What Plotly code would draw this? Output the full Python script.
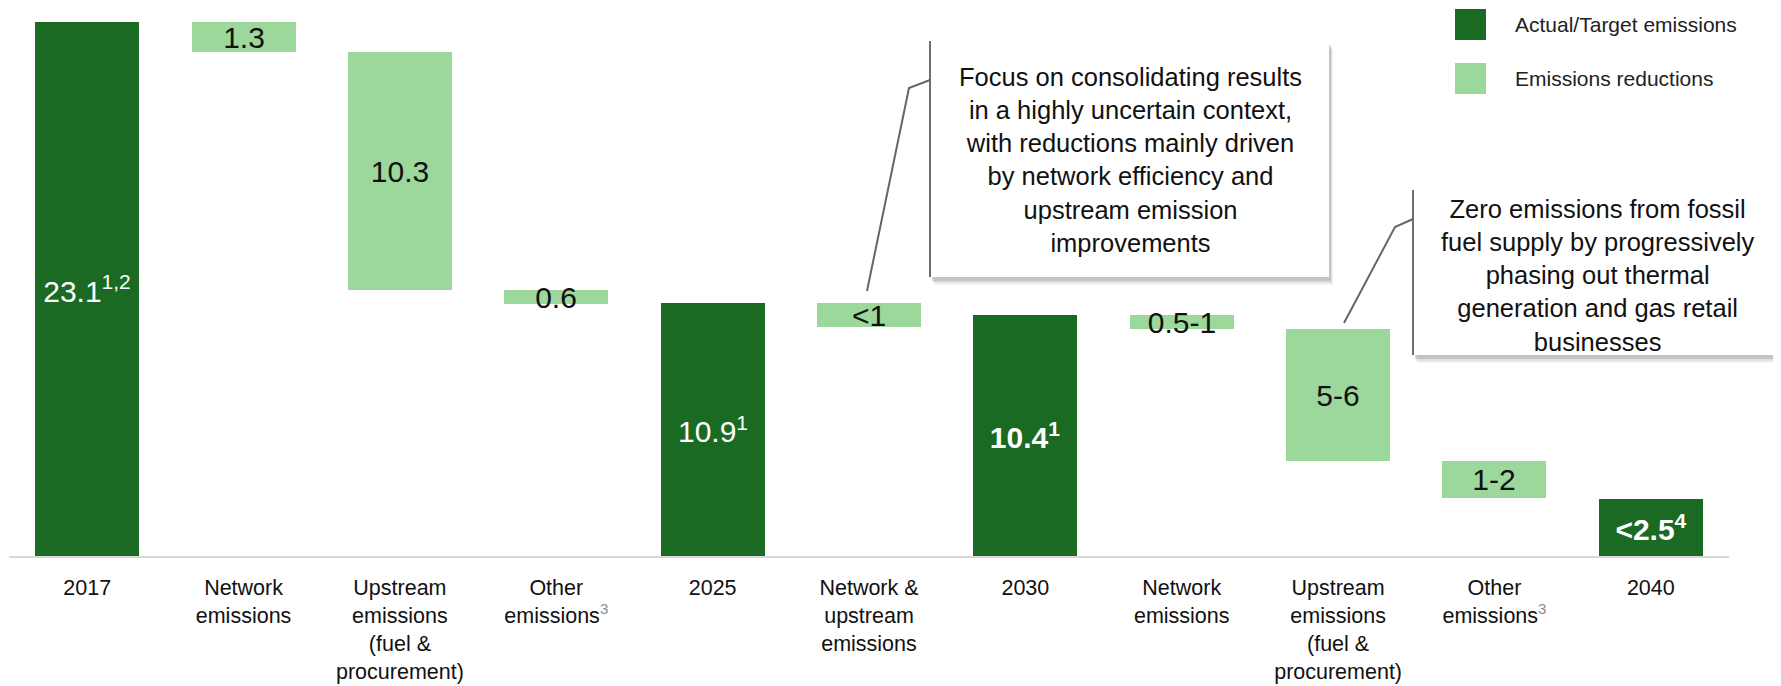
import plotly.graph_objects as go

categories = [
    "2017",
    "Network<br>emissions",
    "Upstream<br>emissions<br>(fuel &<br>procurement)",
    "Other<br>emissions<sup><span style='color:#8c8c8c'>3</span></sup>",
    "2025",
    "Network &<br>upstream<br>emissions",
    "2030",
    "Network<br>emissions",
    "Upstream<br>emissions<br>(fuel &<br>procurement)",
    "Other<br>emissions<sup><span style='color:#8c8c8c'>3</span></sup>",
    "2040",
]
kinds = ["total", "reduction", "reduction", "reduction", "total", "reduction",
         "total", "reduction", "reduction", "reduction", "total"]
values = [23.1, 1.3, 10.3, 0.6, 10.94, 1.01, 10.42, 0.58, 5.74, 1.6, 2.48]
value_labels = [
    "23.1<sup>1,2</sup>", "1.3", "10.3", "0.6", "10.9<sup>1</sup>", "&lt;1",
    "<b>10.4<sup>1</sup></b>", "0.5-1", "5-6", "1-2", "<b>&lt;2.5<sup>4</sup></b>",
]

DARK = "#1b6a24"
LIGHT = "#9cd89c"

# running levels for the floating reduction bars
bases = []
level = 0
for k, v in zip(kinds, values):
    if k == "total":
        bases.append(0)
        level = v
    else:
        level -= v
        bases.append(level)

# page has an 8px body margin, so the figure is made that much smaller
OFF = 8
W, H = 1781 - OFF, 686 - OFF
L, R, T, B = 1, 52, 4, 130
PW, PH = W - L - R, H - T - B


def px(x):
    # reference-screen x pixel -> paper
    return (x - OFF - L) / PW


def py(y):
    # reference-screen y pixel -> paper
    return (H - B - (y - OFF)) / PH


fig = go.Figure()
for kind, color, tcolor, name in [("total", DARK, "white", "Actual/Target emissions"),
                                  ("reduction", LIGHT, "#111111", "Emissions reductions")]:
    idx = [i for i, k in enumerate(kinds) if k == kind]
    fig.add_trace(go.Bar(
        x=idx,
        y=[values[i] for i in idx],
        base=[bases[i] for i in idx],
        text=[value_labels[i] for i in idx],
        textposition="inside",
        insidetextanchor="middle",
        constraintext="none",
        textfont=dict(size=30, color=tcolor),
        marker=dict(color=color, line=dict(width=0)),
        width=0.665,
        name=name,
        showlegend=False,
        hoverinfo="skip",
    ))

shapes = []
annotations = []

# legend drawn as swatches
for y0, color, label in [(9, DARK, "Actual/Target emissions"), (63, LIGHT, "Emissions reductions")]:
    shapes.append(dict(type="rect", xref="paper", yref="paper",
                       x0=px(1455), x1=px(1486), y0=py(y0), y1=py(y0 + 31),
                       fillcolor=color, line=dict(width=0)))
    annotations.append(dict(xref="paper", yref="paper", x=px(1513), y=py(y0 + 15),
                            text=label, showarrow=False, xanchor="left", yanchor="middle",
                            font=dict(size=21, color="#222222")))

# callout boxes with shadow
boxes = [
    dict(x0=930, x1=1329, y0=41, y1=277, tx=1130, ty=160,
         text="Focus on consolidating results<br>in a highly uncertain context,<br>"
              "with reductions mainly driven<br>by network efficiency and<br>"
              "upstream emission<br>improvements",
         line=[(930, 80), (909, 88), (867, 291)]),
    dict(x0=1413, x1=1800, y0=190, y1=355, tx=1597, ty=275,
         text="Zero emissions from fossil<br>fuel supply by progressively<br>"
              "phasing out thermal<br>generation and gas retail<br>businesses",
         line=[(1413, 219), (1395, 227), (1344, 323)]),
]
for b in boxes:
    for off, op in [(8, 0.05), (6, 0.08), (4, 0.12)]:
        shapes.append(dict(type="rect", xref="paper", yref="paper",
                           x0=px(b["x0"] + off / 2), x1=px(b["x1"] + off / 2),
                           y0=py(b["y0"] + off), y1=py(b["y1"] + off),
                           fillcolor=f"rgba(0,0,0,{op})", line=dict(width=0)))
    shapes.append(dict(type="rect", xref="paper", yref="paper",
                       x0=px(b["x0"]), x1=px(b["x1"]), y0=py(b["y0"]), y1=py(b["y1"]),
                       fillcolor="white", line=dict(width=0)))
    shapes.append(dict(type="line", xref="paper", yref="paper",
                       x0=px(b["x0"]), x1=px(b["x0"]), y0=py(b["y0"]), y1=py(b["y1"]),
                       line=dict(color="#6e6e6e", width=2)))
    path = "M " + " L ".join(f"{px(x)},{py(y)}" for x, y in b["line"])
    shapes.append(dict(type="path", xref="paper", yref="paper", path=path,
                       line=dict(color="#666666", width=2)))
    annotations.append(dict(xref="paper", yref="paper", x=px(b["tx"]), y=py(b["ty"]),
                            text=b["text"], showarrow=False, align="center",
                            xanchor="center", yanchor="middle",
                            font=dict(size=25.5, color="#111111")))

fig.update_layout(
    width=W, height=H,
    margin=dict(l=L, r=R, t=T, b=B),
    paper_bgcolor="white",
    plot_bgcolor="white",
    font=dict(family="Liberation Sans, Arial, sans-serif", color="#111111"),
    bargap=0,
    shapes=shapes,
    annotations=annotations,
    xaxis=dict(
        range=[-0.5, 10.5],
        tickvals=list(range(len(categories))),
        ticktext=categories,
        tickfont=dict(size=21.5, color="#111111"),
        showgrid=False,
        zeroline=False,
        showline=True,
        linecolor="#d9d9d9",
        linewidth=2,
        ticks="",
        ticklabelstandoff=11,
        automargin=False,
        fixedrange=True,
    ),
    yaxis=dict(
        range=[0, PH / 23.1],
        visible=False,
        fixedrange=True,
    ),
)

fig.write_html("out.html")
